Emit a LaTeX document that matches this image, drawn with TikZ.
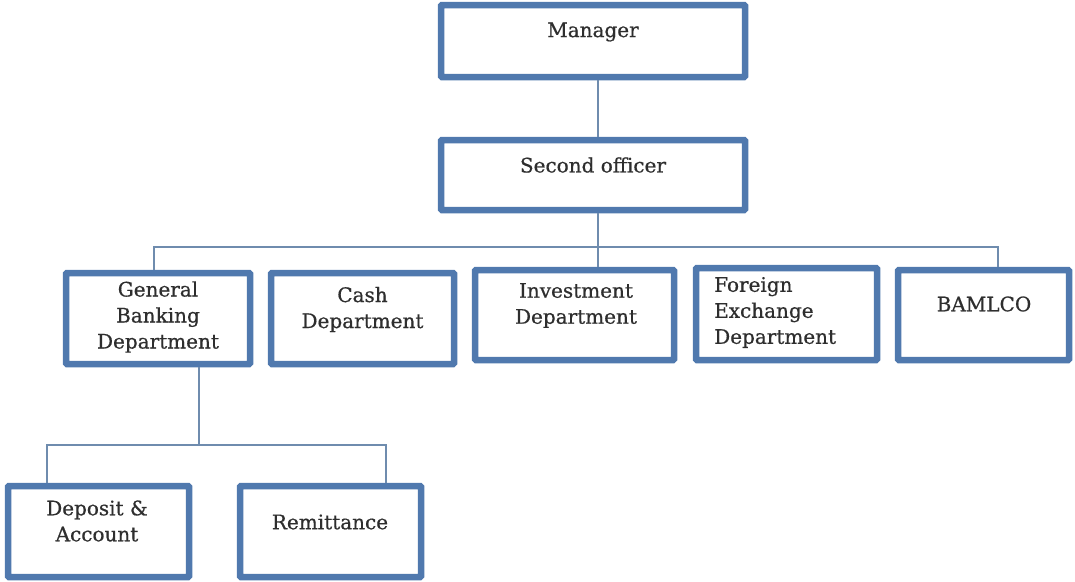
\documentclass[tikz,border=0pt]{standalone}
\usepackage{fontspec}
\setmainfont{DejaVu Serif}[FakeBold=0.6]
\begin{document}
\definecolor{boxblue}{HTML}{5079AE}
\definecolor{linkblue}{HTML}{6F8CAE}
\definecolor{inktext}{HTML}{2E2E2E}
\begin{tikzpicture}[x=1pt,y=-1pt,
  box/.style={draw=boxblue, line width=6.5pt, fill=white, rounded corners=1pt,
              inner sep=0pt, minimum width=#1},
  box/.default=180pt,
  lbl/.style={text=inktext, font=\fontsize{20}{26}\selectfont, align=center, inner sep=0pt},
  link/.style={draw=linkblue, line width=1.4pt}
]
\useasboundingbox (0,0) rectangle (1075,581);

% top of the chart
\node[box=304pt, minimum height=72pt] (mgr) at (593,41) {};
\node[box=304pt, minimum height=70pt] (sec) at (593,175) {};
\node[lbl] (mgr-t) at (593,32) {Manager};
\node[lbl] (sec-t) at (593,165) {Second officer};

% departments
\node[box=184pt, minimum height=91pt] (gb)   at (158,318.5) {};
\node[box=183pt, minimum height=91pt] (cash) at (362.5,318.5) {};
\node[box=199pt, minimum height=90pt] (inv)  at (574.5,315) {};
\node[box=181pt, minimum height=92pt] (fx)   at (786.5,314) {};
\node[box=171pt, minimum height=90pt] (bam)  at (983.5,315) {};

\node[lbl] (gb-t)   at (158,317) {General\\Banking\\Department};
\node[lbl] (cash-t) at (362.5,309.5) {Cash\\Department};
\node[lbl] (inv-t)  at (576,305.5) {Investment\\Department};
\node[lbl, align=left, anchor=west] (fx-t) at (714,312.5) {Foreign\\Exchange\\Department};
\node[lbl] (bam-t)  at (984,304) {BAMLCO};

% general banking sections
\node[box=181pt, minimum height=91pt] (dep) at (98.5,531.5) {};
\node[box=181pt, minimum height=91pt] (rem) at (330.5,531.5) {};
\node[lbl] (dep-t) at (97,521) {Deposit \&\\Account};
\node[lbl] (rem-t) at (330,522) {Remittance};

% connectors
\coordinate (bus) at (598,247);
\coordinate (gbbus) at (199,445);
\draw[link] (mgr.south -| 598,0) -- (sec.north -| 598,0);
\draw[link] (sec.south -| 598,0) -- (inv.north -| 598,0);
\draw[link] (gb.north -| 154,0) |- (bus) -| (bam.north -| 998,0);
\draw[link] (cash.north -| 360,0) -- (cash.north -| 360,0 |- bus);
\draw[link] (fx.north -| 802,0) -- (fx.north -| 802,0 |- bus);
\draw[link] (gb.south -| gbbus) -- (gbbus);
\draw[link] (dep.north -| 47,0) |- (gbbus) -| (rem.north -| 386,0);
\end{tikzpicture}
\end{document}
